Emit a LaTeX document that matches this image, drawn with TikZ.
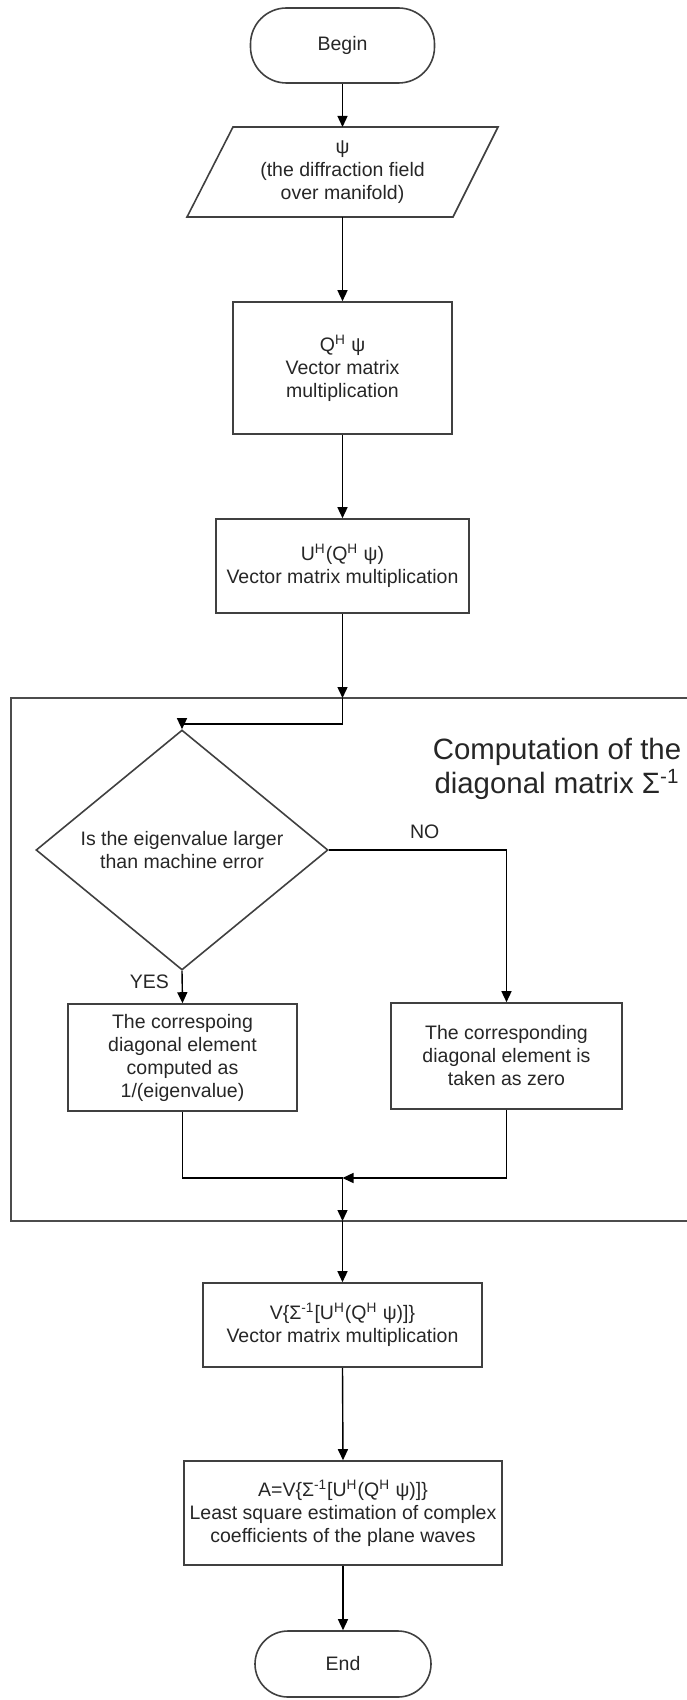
\documentclass[tikz,border=0pt]{standalone}
\usepackage{fontspec}
\setmainfont{Liberation Sans}
\usetikzlibrary{shapes.geometric,arrows.meta,calc}
\begin{document}
\begin{tikzpicture}[x=0.5pt,y=-0.5pt,
  txt/.style={font=\fontsize{9.75}{11.5}\selectfont, text=black!85},
  box/.style={txt, draw=black!75, line width=0.8pt, align=center, inner sep=0pt},
  term/.style={box, rounded corners=18pt},
  dec/.style={txt, diamond, draw=black!75, line width=0.8pt, align=center, inner sep=0pt},
  arr/.style={draw=black, line width=0.7pt, -{Triangle[length=5.5pt,width=5pt]}},
  ln/.style={draw=black, line width=0.7pt}
]
\useasboundingbox (0,0) rectangle (686,1700);

% group frame
\draw[draw=black!70, line width=1pt] (700,698) -- (11,698) -- (11,1221) -- (700,1221);
\node[font=\fontsize{14.7}{17}\selectfont, text=black!85, align=center] (title) at (557,769)
  {Computation of the\\diagonal matrix Σ\textsuperscript{-1}};

% nodes
\node[term, minimum width=92pt, minimum height=37.5pt] (begin) at (342.5,45.5) {Begin};
\node[txt, align=center, minimum width=110pt, minimum height=45pt, inner sep=0pt] (para) at (342.5,172)
  {ψ\\(the diffraction field\\over manifold)};
\draw[draw=black!75, line width=0.8pt] (233,127) -- (498,127) -- (453,217) -- (187,217) -- cycle;
\node[box, minimum width=109.5pt, minimum height=66pt] (q) at (342.5,368)
  {Q\textsuperscript{H} ψ\\Vector matrix\\multiplication};
\node[box, minimum width=126.5pt, minimum height=47pt] (u) at (342.5,566)
  {U\textsuperscript{H}(Q\textsuperscript{H} ψ)\\Vector matrix multiplication};
\node[dec, minimum width=146pt, minimum height=98pt] (dia) at (182,850)
  {Is the eigenvalue larger\\than machine error};
\node[box, minimum width=114.5pt, minimum height=53.5pt] (yesbox) at (182.5,1057.5)
  {The correspoing\\diagonal element\\computed as\\1/(eigenvalue)};
\node[box, minimum width=115.5pt, minimum height=53pt] (nobox) at (506.5,1056)
  {The corresponding\\diagonal element is\\taken as zero};
\node[box, minimum width=139.5pt, minimum height=42pt] (v) at (342.5,1325)
  {V\{Σ\textsuperscript{-1}[U\textsuperscript{H}(Q\textsuperscript{H} ψ)]\}\\Vector matrix multiplication};
\node[box, minimum width=159pt, minimum height=52pt] (a) at (343,1513)
  {A=V\{Σ\textsuperscript{-1}[U\textsuperscript{H}(Q\textsuperscript{H} ψ)]\}\\Least square estimation of complex\\coefficients of the plane waves};
\node[term, minimum width=88pt, minimum height=33pt, rounded corners=16.5pt] (end) at (343,1664) {End};

% helper coordinates
\coordinate (c1) at (342.5,698);
\coordinate (j1) at (342.5,724);
\coordinate (m) at (342.5,1178);
\coordinate (c2) at (342.5,1221);

% connectors
\draw[arr] (begin.south) -- (para.north |- 0,127);
\draw[arr] (para.south |- 0,217) -- (q.north);
\draw[arr] (q.south) -- (u.north);
\draw[arr] (u.south) -- (c1);
\draw[arr] (c1) -- (j1) -| (dia.north);
\draw[arr] (dia.south) -- node[txt, left, pos=0.35, xshift=-3pt] {YES} (yesbox.north);
\draw[arr] (dia.east) -| node[txt, above, pos=0.27, yshift=2pt] {NO} (nobox.north);
\draw[ln] (yesbox.south) |- (m);
\draw[arr] (nobox.south) |- (m);
\draw[arr] (m) -- (c2);
\draw[arr] (c2) -- (v.north);
\draw[arr] (v.south) -- (a.north);
\draw[arr] (a.south) -- (end.north);
\end{tikzpicture}
\end{document}
